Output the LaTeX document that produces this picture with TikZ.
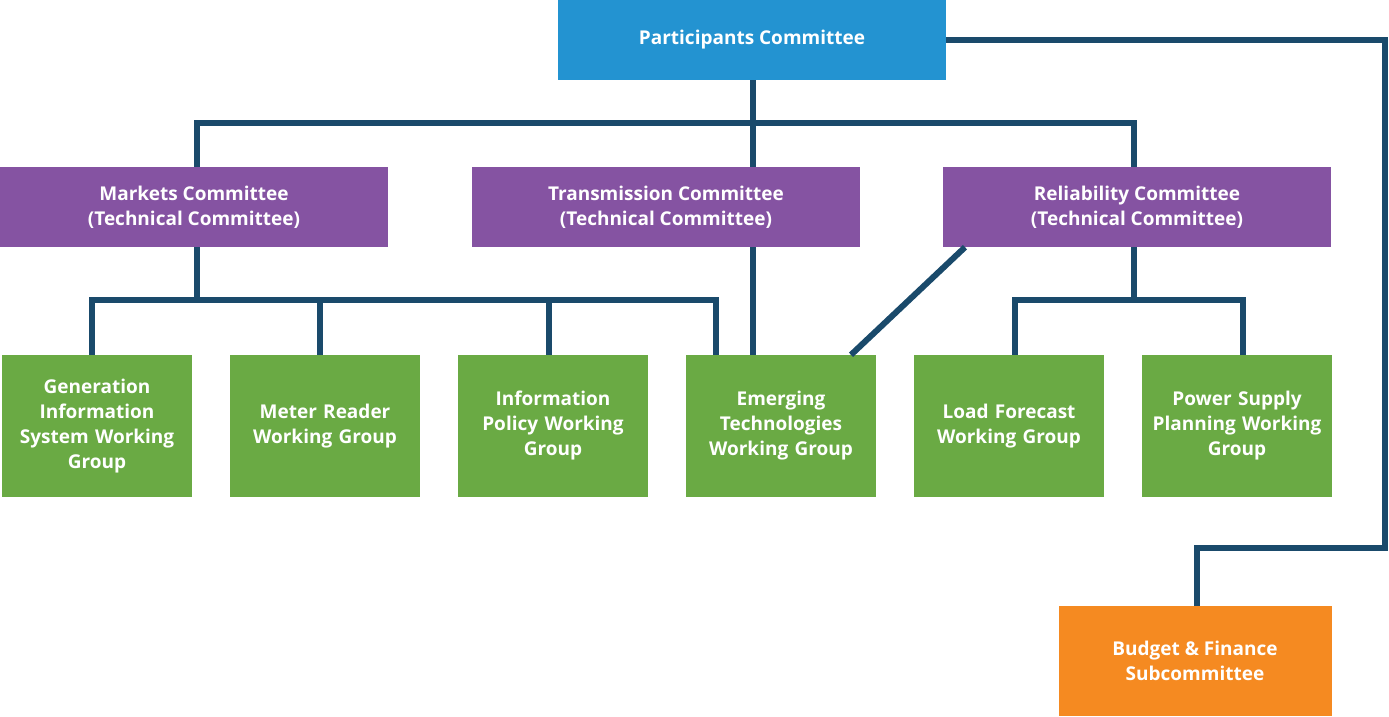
\documentclass[tikz,border=0pt]{standalone}
\usepackage{fontspec}
\setmainfont{Open Sans}
\usetikzlibrary{positioning}
\definecolor{pcblue}{HTML}{2393D1}
\definecolor{tcpurple}{HTML}{8553A2}
\definecolor{wggreen}{HTML}{6AAA44}
\definecolor{bforange}{HTML}{F58A21}
\definecolor{linkblue}{HTML}{1A4A6B}
\tikzset{
  box/.style={inner sep=2pt, align=center, text=white, font=\fontsize{19}{25}\selectfont\bfseries},
  top/.style={box, fill=pcblue, minimum width=388pt, minimum height=80pt},
  tech/.style={box, fill=tcpurple, minimum width=388pt, minimum height=80pt},
  wg/.style={box, fill=wggreen, minimum width=190pt, minimum height=142pt, text width=186pt},
  sub/.style={box, fill=bforange, minimum width=273pt, minimum height=110pt},
  link/.style={draw=linkblue, line width=6pt}
}
\begin{document}
\begin{tikzpicture}[x=1pt,y=-1pt]
  \useasboundingbox (0,0) rectangle (1389,716);

  \node[top] (pc) at (752,40) {Participants Committee};
  \node[tech] (mc) at (194,207) {Markets Committee\\(Technical Committee)};
  \node[tech] (tc) at (666,207) {Transmission Committee\\(Technical Committee)};
  \node[tech] (rc) at (1137,207) {Reliability Committee\\(Technical Committee)};

  \node[wg] (gis) at (97,426) {Generation\\Information\\System Working\\Group};
  \node[wg] (mr) at (325,426) {Meter Reader\\Working Group};
  \node[wg] (ip) at (553,426) {Information\\Policy Working\\Group};
  \node[wg] (et) at (781,426) {Emerging\\Technologies\\Working Group};
  \node[wg] (lf) at (1009,426) {Load Forecast\\Working Group};
  \node[wg] (ps) at (1237,426) {Power Supply\\Planning Working\\Group};
  \node[sub] (bf) at (1195,661) {Budget \& Finance\\Subcommittee};

  \coordinate (pcbus) at (753,123);
  \coordinate (mcbus) at (197,300);
  \coordinate (rcbus) at (1134,300);
  \coordinate (gisx) at (92,0);
  \coordinate (mrx) at (320,0);
  \coordinate (ipx) at (549,0);
  \coordinate (etx) at (716,0);
  \coordinate (tcx) at (753,0);
  \coordinate (rcl) at (965,0);
  \coordinate (etr) at (851,0);
  \coordinate (lfx) at (1015,0);
  \coordinate (psx) at (1243,0);
  \coordinate (bfx) at (1197,0);
  \coordinate (turn) at (1385,548);

  % participants to technical committees
  \draw[link] (pc.south -| pcbus) -- (pcbus);
  \draw[link] (mc.north -| mcbus) |- (pcbus) -| (rc.north -| rcbus);
  \draw[link] (pcbus) -- (tc.north -| pcbus);

  % markets committee
  \draw[link] (mc.south -| mcbus) -- (mcbus);
  \draw[link] (gis.north -| gisx) |- (mcbus) -| (et.north -| etx);
  \draw[link] (mr.north -| mrx) -- (mcbus -| mrx);
  \draw[link] (ip.north -| ipx) -- (mcbus -| ipx);

  % transmission and reliability
  \draw[link] (tc.south -| tcx) -- (et.north -| tcx);
  \draw[link] (rc.south -| rcl) -- (et.north -| etr);
  \draw[link] (rc.south -| rcbus) -- (rcbus);
  \draw[link] (lf.north -| lfx) |- (rcbus) -| (ps.north -| psx);

  % budget
  \draw[link] (pc.east) -| (turn) -| (bf.north -| bfx);
\end{tikzpicture}
\end{document}
